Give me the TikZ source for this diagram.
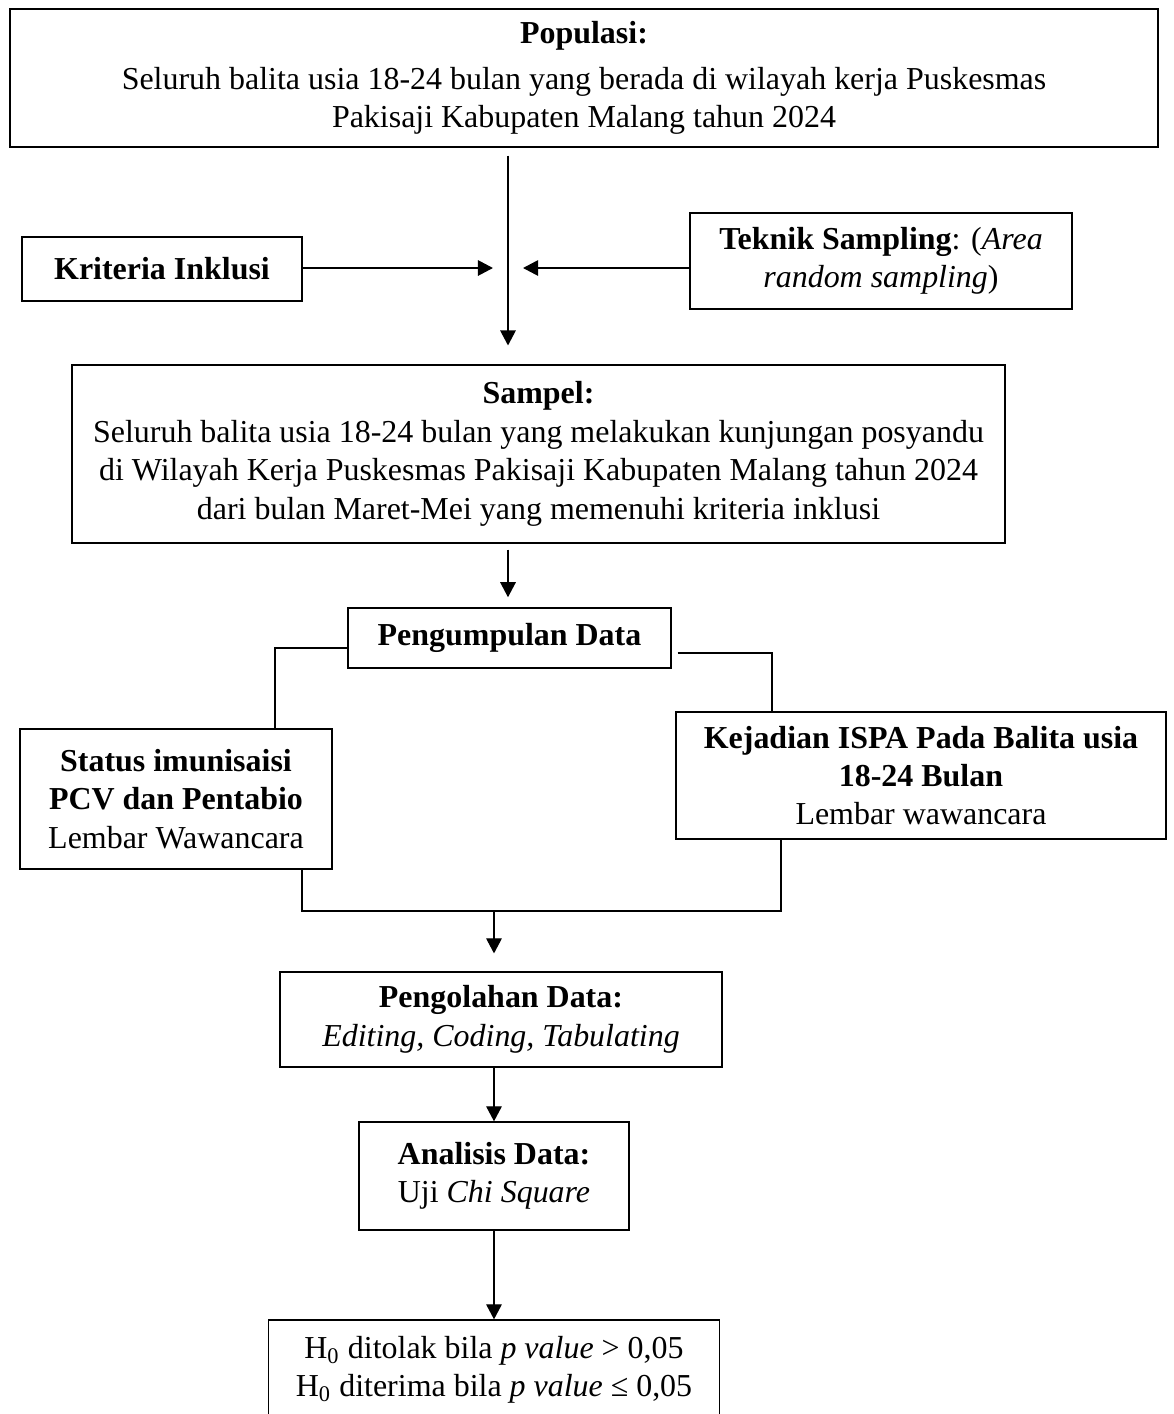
\documentclass[tikz,border=0pt]{standalone}
\usepackage{fontspec}
\setmainfont{Liberation Serif}
\usetikzlibrary{arrows.meta}

\begin{document}
\begin{tikzpicture}[x=0.385pt,y=0.385pt,yscale=-1,xscale=1,
  box/.style={draw, line width=0.5pt, rectangle, align=center, inner sep=0pt, font=\fontsize{12.3}{14.8}\selectfont},
  arr/.style={-{Triangle[length=5.8pt,width=6pt]}, line width=0.5pt},
  conn/.style={line width=0.5pt}]
\useasboundingbox (0,0) rectangle (1174,1414);

%Shape: Rectangle [id:pop] 
\node [box, minimum width=442pt, minimum height=53.1pt] (pop) at (584,78) {\textbf{Populasi:}\\[3pt]Seluruh balita usia 18-24 bulan yang berada di wilayah kerja Puskesmas\\Pakisaji Kabupaten Malang tahun 2024};
%Shape: Rectangle [id:krit] 
\node [box, minimum width=107.8pt, minimum height=24.6pt] (krit) at (162,269) {\textbf{Kriteria Inklusi}};
%Shape: Rectangle [id:tek] 
\node [box, minimum width=147.1pt, minimum height=37pt] (tek) at (881,261) {\textbf{Teknik Sampling}: (\textit{Area}\\\textit{random sampling})};
%Shape: Rectangle [id:sam] 
\node [box, minimum width=359.2pt, minimum height=68.5pt] (sam) at (538.5,454) {\textbf{Sampel:}\\Seluruh balita usia 18-24 bulan yang melakukan kunjungan posyandu\\di Wilayah Kerja Puskesmas Pakisaji Kabupaten Malang tahun 2024\\dari bulan Maret-Mei yang memenuhi kriteria inklusi};
%Shape: Rectangle [id:kumpul] 
\node [box, minimum width=124.4pt, minimum height=23.1pt] (kumpul) at (509.5,638) {\textbf{Pengumpulan Data}};
%Shape: Rectangle [id:status] 
\node [box, minimum width=120.1pt, minimum height=53.9pt] (status) at (176,799) {\textbf{Status imunisaisi}\\\textbf{PCV dan Pentabio}\\Lembar Wawancara};
%Shape: Rectangle [id:ispa] 
\node [box, minimum width=188.7pt, minimum height=48.9pt] (ispa) at (921,775.5) {\textbf{Kejadian ISPA Pada Balita usia}\\\textbf{18-24 Bulan}\\Lembar wawancara};
%Shape: Rectangle [id:olah] 
\node [box, minimum width=170.2pt, minimum height=36.6pt] (olah) at (501,1019.5) {\textbf{Pengolahan Data:}\\\textit{Editing, Coding, Tabulating}};
%Shape: Rectangle [id:anal] 
\node [box, minimum width=104pt, minimum height=41.6pt] (anal) at (494,1176) {\textbf{Analisis Data:}\\Uji \textit{Chi Square}};
%Shape: Rectangle [id:hnol] 
\node [box, minimum width=173.6pt, minimum height=38.5pt] (hnol) at (494,1370) {H\textsubscript{0} ditolak bila \textit{p value} > 0,05\\H\textsubscript{0} diterima bila \textit{p value} ≤ 0,05};

%Points
\coordinate (mid) at (508,268);
\coordinate (cl) at (275,648);
\coordinate (cr) at (772,653);
\coordinate (bl) at (302,911);
\coordinate (br) at (781,911);
\coordinate (bm) at (494,911);

%Straight Lines [id:main] 
\draw [arr, shorten <=3.1pt, shorten >=7.3pt] (pop.south -| mid) -- (sam.north -| mid) ;
%Straight Lines [id:kritarr] 
\draw [arr, shorten >=5.8pt] (krit.east |- mid) -- (mid) ;
%Straight Lines [id:tekarr] 
\draw [arr, shorten >=5.8pt] (tek.west |- mid) -- (mid) ;
%Straight Lines [id:samarr] 
\draw [arr, shorten <=2.3pt, shorten >=3.9pt] (sam.south -| mid) -- (kumpul.north -| mid) ;
%Straight Lines [id:left] 
\draw [conn] (kumpul.west |- cl) -- (cl) -- (status.north -| cl) ;
%Straight Lines [id:right] 
\draw [conn, shorten <=2.3pt] (kumpul.east |- cr) -- (cr) -- (ispa.north -| cr) ;
%Straight Lines [id:bottom] 
\draw [conn] (status.south -| bl) -- (bl) -- (br) -- (ispa.south -| br) ;
%Straight Lines [id:bmarr] 
\draw [arr, shorten >=6.9pt] (bm) -- (olah.north -| bm) ;
%Straight Lines [id:olaharr] 
\draw [arr] (olah.south -| anal) -- (anal.north) ;
%Straight Lines [id:analarr] 
\draw [arr] (anal.south) -- (hnol.north) ;

\end{tikzpicture}
\end{document}
